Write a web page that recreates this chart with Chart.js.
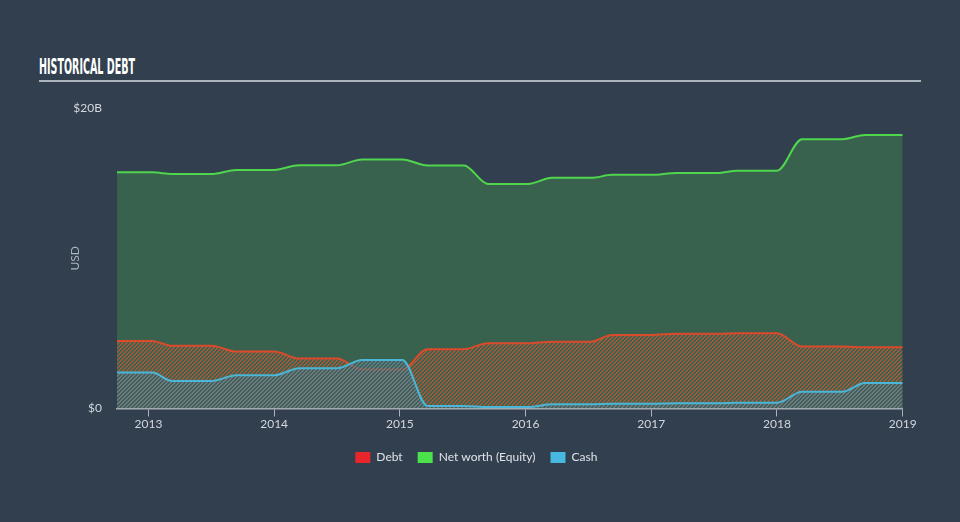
<!DOCTYPE html>
<html><head><meta charset="utf-8">
<script src="https://cdn.jsdelivr.net/npm/chart.js@4.4.1/dist/chart.umd.min.js"></script>
<style>
html,body{margin:0;padding:0;background:#323f4f;width:960px;height:522px;overflow:hidden;}
#wrap{position:relative;width:960px;height:522px;}
#title{position:absolute;left:39px;top:57px;font-family:"Liberation Sans Narrow","DejaVu Sans Condensed",sans-serif;font-weight:bold;font-size:21px;line-height:21px;color:#ffffff;white-space:nowrap;transform-origin:0 0;}
#rule{position:absolute;left:39px;top:80px;width:882px;height:2px;background:#aab2bc;}
canvas{position:absolute;left:0;top:0;}
</style></head><body>
<div id="wrap"><div id="title">HISTORICAL DEBT</div><div id="rule"></div><canvas id="c" width="960" height="522"></canvas></div>
<script>
// Dates as decimal years
const dates = [2012.75, 2013.03, 2013.19, 2013.5, 2013.7, 2014.0, 2014.2, 2014.5, 2014.7, 2015.02,
               2015.22, 2015.51, 2015.7, 2016.02, 2016.21, 2016.52, 2016.69, 2017.0, 2017.2, 2017.54,
               2017.68, 2018.0, 2018.2, 2018.52, 2018.7, 2019.0];
// Values in billions USD
const debt   = [4.5, 4.5, 4.17, 4.17, 3.79, 3.79, 3.32, 3.32, 2.59, 2.59,
                3.95, 3.95, 4.35, 4.35, 4.45, 4.45, 4.9, 4.9, 4.97, 4.97,
                5.01, 5.01, 4.12, 4.12, 4.08, 4.08];
const equity = [15.72, 15.72, 15.61, 15.61, 15.88, 15.88, 16.19, 16.19, 16.57, 16.57,
                16.17, 16.17, 14.95, 14.95, 15.35, 15.35, 15.55, 15.55, 15.68, 15.68,
                15.83, 15.83, 17.92, 17.92, 18.21, 18.21];
const cash   = [2.39, 2.39, 1.83, 1.83, 2.21, 2.21, 2.68, 2.68, 3.23, 3.23,
                0.17, 0.17, 0.10, 0.10, 0.28, 0.28, 0.32, 0.32, 0.35, 0.35,
                0.38, 0.38, 1.12, 1.12, 1.70, 1.70];
const yearTicks = [2013, 2014, 2015, 2016, 2017, 2018, 2019];
const valueTicks = [0, 20];
const seriesNames = ['Debt', 'Net worth (Equity)', 'Cash'];
const legendColors = ['#e8262b', '#4be24b', '#47b9e0'];

function makePattern(base, stripe, size) {
  const c = document.createElement('canvas');
  c.width = size; c.height = size;
  const g = c.getContext('2d');
  if (base) { g.fillStyle = base; g.fillRect(0, 0, size, size); }
  g.fillStyle = stripe;
  for (let y = 0; y < size; y++) for (let x = 0; x < size; x++) {
    if (((x + y) % size) < 2) g.fillRect(x, y, 1, 1);
  }
  return g.createPattern(c, 'repeat');
}
const ctx = document.getElementById('c').getContext('2d');
const debtPattern = makePattern(null, 'rgba(222,88,48,0.62)', 4);
const cashPattern = makePattern('rgba(66,96,106,0.6)', 'rgba(118,142,146,0.6)', 4);
const pts = arr => arr.map((v, i) => ({x: dates[i], y: v}));

const tickColor = '#d3d7dd';
new Chart(ctx, {
  type: 'line',
  data: { datasets: [
    {label: seriesNames[0], data: pts(debt), borderColor: '#dc4a2c', backgroundColor: debtPattern, fill: 'origin', order: 1},
    {label: seriesNames[1], data: pts(equity), borderColor: '#4fd64c', backgroundColor: 'rgba(76,222,76,0.22)', fill: 'origin', order: 2},
    {label: seriesNames[2], data: pts(cash), borderColor: '#4ab6d8', backgroundColor: cashPattern, fill: 'origin', order: 0}
  ]},
  options: {
    responsive: false, animation: false, devicePixelRatio: 1,
    elements: { line: {borderWidth: 2, cubicInterpolationMode: 'monotone'}, point: {radius: 0} },
    layout: { padding: {left: 50, right: 57.3, top: 108, bottom: 48.5} },
    scales: {
      x: {
        type: 'linear', min: 2012.75, max: 2019.0,
        afterBuildTicks: s => { s.ticks = yearTicks.map(v => ({value: v})); },
        ticks: {color: tickColor, font: {size: 12, family: 'Lato'}, padding: 0, maxRotation: 0, autoSkip: false, callback: v => String(v)},
        grid: {display: true, drawOnChartArea: false, drawTicks: true, tickLength: 8, color: '#aab2bc', lineWidth: 1},
        border: {display: true, color: '#aab2bc', width: 1.5},
        afterFit: s => { s.height = 28; }
      },
      y: {
        min: 0, max: 20,
        afterBuildTicks: s => { s.ticks = valueTicks.map(v => ({value: v})); },
        ticks: {color: tickColor, font: {size: 12, family: 'Lato'}, padding: 15, callback: v => v === 0 ? '$0' : '$' + v + 'B'},
        grid: {display: false, drawTicks: false}, border: {display: false},
        title: {display: true, text: 'USD', color: '#aeb5be', font: {size: 12, family: 'Lato'}, padding: {top: 18, bottom: 0}},
        afterFit: s => { s.width = 67; }
      }
    },
    plugins: {
      tooltip: {enabled: false},
      legend: {
        position: 'bottom',
        labels: {
          boxWidth: 15, boxHeight: 11, padding: 15, color: '#dfe3e8', font: {size: 12, family: 'Lato'},
          generateLabels: chart => seriesNames.map((n, i) => ({
            text: n, fillStyle: legendColors[i], strokeStyle: 'rgba(0,0,0,0)', lineWidth: 0,
            hidden: false, datasetIndex: i, fontColor: '#dfe3e8'
          }))
        }
      }
    }
  }
});
const t = document.getElementById('title');
const w = t.getBoundingClientRect().width;
t.style.transform = 'scaleX(' + (96 / w) + ')';
</script>
</body></html>
